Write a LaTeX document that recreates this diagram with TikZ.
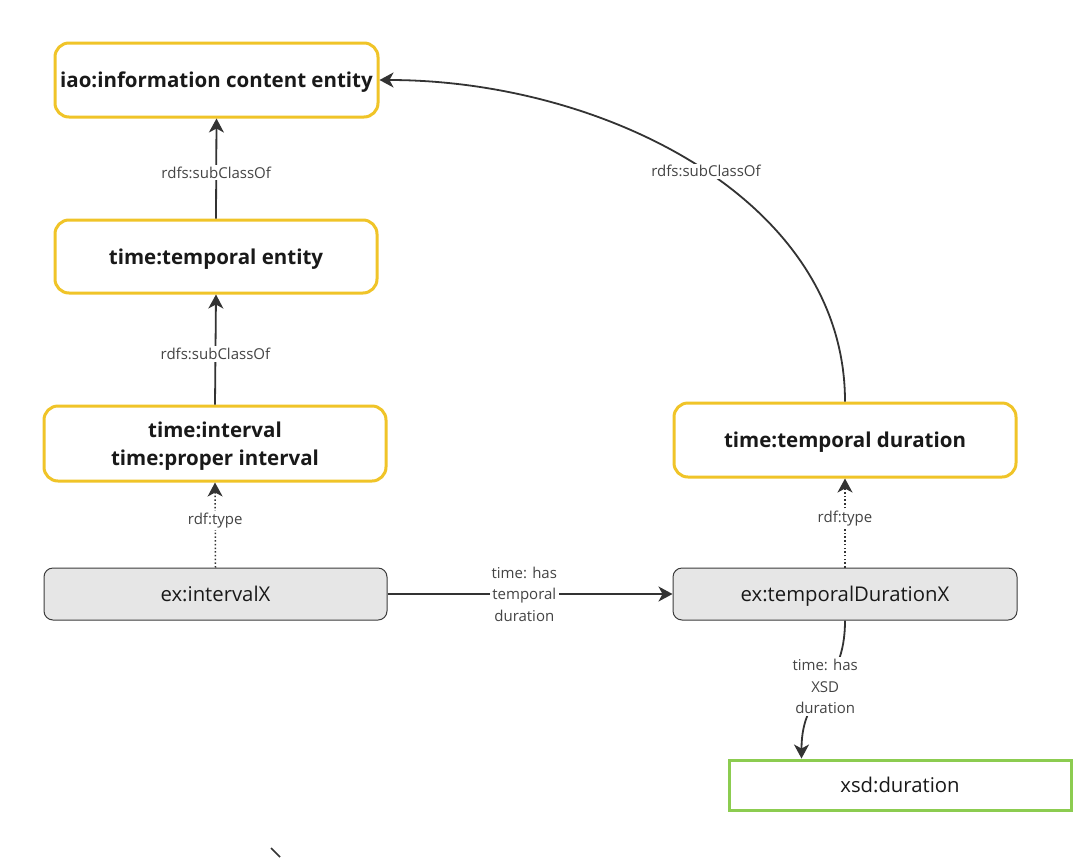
\documentclass[tikz,border=0pt]{standalone}
\usepackage{fontspec}
\setmainfont{Open Sans}
\usetikzlibrary{arrows.meta}
\definecolor{ylw}{RGB}{240,196,40}
\definecolor{grn}{RGB}{140,204,80}
\definecolor{gfill}{RGB}{230,230,230}
\definecolor{gborder}{RGB}{60,60,60}
\definecolor{arrc}{RGB}{51,51,51}
\definecolor{txt}{RGB}{25,25,25}
\definecolor{lbltxt}{RGB}{68,68,68}
\begin{document}
\begin{tikzpicture}[x=1pt,y=-1pt,
  cls/.style={draw=ylw, line width=3pt, rounded corners=14pt, fill=white,
    font=\fontsize{20.5}{28}\selectfont\bfseries, align=center, text=txt, inner sep=0pt, text depth=0pt},
  inst/.style={draw=gborder, line width=1pt, fill=gfill, rounded corners=9pt,
    font=\fontsize{20.3}{24}\selectfont, text=txt, inner sep=0pt, text depth=0pt},
  lit/.style={draw=grn, line width=3pt, fill=white,
    font=\fontsize{20.3}{24}\selectfont, text=txt, inner sep=0pt, text depth=0pt},
  arr/.style={draw=arrc, line width=1.8pt, -{Stealth[length=14pt,width=15pt,inset=4pt]}},
  dotarr/.style={draw=arrc, line width=1.5pt, dash pattern=on 1.5pt off 2.2pt,
    -{Stealth[length=14pt,width=15pt,inset=4pt]}},
  lbl/.style={fill=white, text=lbltxt, font=\fontsize{15}{21.5}\selectfont,
    align=center, inner sep=2pt}
]
\useasboundingbox (0,0) rectangle (1078,857);
\fill[white] (0,0) rectangle (1078,857);

\node[cls, minimum width=323pt, minimum height=74pt] (iao) at (216.5,80) {iao:information content entity};
\node[cls, minimum width=322pt, minimum height=73pt] (te) at (216,256.5) {time:temporal entity};
\node[cls, minimum width=342pt, minimum height=75pt] (iv) at (215,443.5) {time:interval\\time:proper interval};
\node[cls, minimum width=342pt, minimum height=74pt] (td) at (845,440) {time:temporal duration};
\node[inst, minimum width=343pt, minimum height=52pt] (ix) at (215.5,594) {ex:intervalX};
\node[inst, minimum width=344pt, minimum height=52pt] (tdx) at (845,594) {ex:temporalDurationX};
\node[lit, minimum width=342pt, minimum height=50pt] (xsd) at (900,785) {xsd:duration};

\draw[arr] (te.north) -- node[lbl, pos=0.46]{rdfs:subClassOf} (iao.south);
\draw[arr] (iv.north) -- node[lbl, pos=0.46]{rdfs:subClassOf} (te.south);
\draw[dotarr] (ix.north) -- node[lbl, pos=0.55]{rdf:type} (iv.south);
\draw[dotarr] (tdx.north) -- node[lbl, pos=0.55]{rdf:type} (td.south);
\draw[arr] (ix.east) -- node[lbl, pos=0.48]{time: has\\temporal\\duration} (tdx.west);
\draw[arr] (td.north) .. controls +(0,-203) and +(222,0) .. node[lbl, pos=0.48]{rdfs:subClassOf} (iao.east);
\path (xsd.north west) ++(74,0) coordinate (xt);
\draw[arr] (tdx.south) .. controls +(0,70) and +(0,-70) .. node[lbl, pos=0.47]{time: has\\XSD\\duration} (xt);

\coordinate (m1) at (271,848);
\coordinate (m2) at (280,857);
\draw[draw=arrc, line width=1.5pt] (m1) -- (m2);
\end{tikzpicture}
\end{document}
